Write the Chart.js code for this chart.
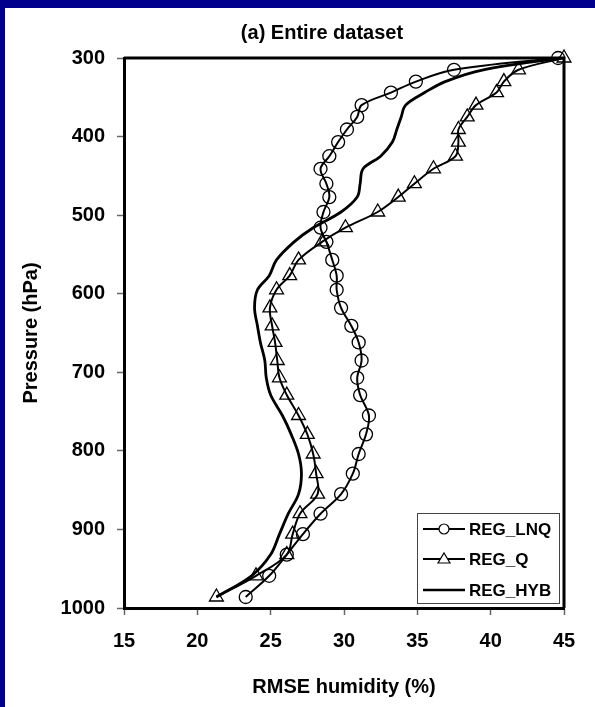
<!DOCTYPE html>
<html>
<head>
<meta charset="utf-8">
<script src="https://cdn.jsdelivr.net/npm/chart.js@4.4.1/dist/chart.umd.min.js"></script>
<style>
  html, body { margin: 0; padding: 0; background: #fff; }
  #wrap { position: relative; width: 595px; height: 707px; background: #fff; overflow: hidden; }
  .bar-top { position: absolute; left: 0; top: 0; width: 595px; height: 8px; background: #00008c; }
  .bar-left { position: absolute; left: 0; top: 0; width: 5px; height: 707px; background: #00008c; }
  canvas { position: absolute; left: 0; top: 0; }
</style>
</head>
<body>
<div id="wrap">
  <canvas id="rmse_chart" width="595" height="707"></canvas>
  <div class="bar-top"></div>
  <div class="bar-left"></div>
</div>
<script>
// pressure levels (hPa) shared by the three profiles
var pressureLevels = [300, 315, 330, 344, 360, 375, 391, 407, 425, 441, 460, 477, 496, 516, 534, 557, 577,
    595, 618, 641, 662, 685, 707, 729, 755, 779, 804, 829, 855, 880, 906, 932, 959, 986];

// RMSE humidity (%) per level
var regLnq = [44.6, 37.5, 34.9, 33.2, 31.2, 30.9, 30.2, 29.6, 29.0, 28.4, 28.8, 29.0, 28.6, 28.4, 28.8, 29.2, 29.5,
    29.5, 29.8, 30.5, 31.0, 31.2, 30.9, 31.1, 31.7, 31.5, 31.0, 30.6, 29.8, 28.4, 27.2, 26.1, 24.9, 23.3];
var regQ = [45.0, 41.9, 40.9, 40.4, 39.0, 38.4, 37.8, 37.8, 37.6, 36.1, 34.8, 33.7, 32.3, 30.1, 28.5, 26.9, 26.3,
    25.4, 24.95, 25.1, 25.3, 25.45, 25.6, 26.1, 26.9, 27.5, 27.9, 28.1, 28.2, 27.0, 26.5, 26.1, 24.0, 21.3];
var regHyb = [44.8, 39.5, 36.9, 35.5, 34.2, 33.9, 33.6, 33.3, 32.5, 31.3, 31.1, 30.9, 29.8, 27.9, 26.6, 25.4, 24.9,
    24.1, 23.9, 24.1, 24.3, 24.6, 24.7, 25.0, 25.8, 26.4, 26.9, 27.1, 26.9, 26.2, 25.6, 25.0, 23.7, 21.3];

var seriesNames = ['REG_LNQ', 'REG_Q', 'REG_HYB'];
var xTicks = [15, 20, 25, 30, 35, 40, 45];
var yTicks = [300, 400, 500, 600, 700, 800, 900, 1000];

var FONT = 'Arial, "Liberation Sans", Helvetica, sans-serif';

function toPoints(values) {
    return values.map(function(v, i) { return { x: v, y: pressureLevels[i] }; });
}

// top + right sides of the box
var framePlugin = {
    id: 'frame',
    beforeDatasetsDraw: function(chart) {
        var a = chart.chartArea, ctx = chart.ctx;
        ctx.save();
        ctx.strokeStyle = '#000';
        ctx.lineWidth = 3;
        ctx.beginPath();
        ctx.moveTo(a.left, a.top);
        ctx.lineTo(a.right, a.top);
        ctx.lineTo(a.right, a.bottom);
        ctx.stroke();
        ctx.restore();
    }
};

var titlePlugin = {
    id: 'topTitle',
    afterDraw: function(chart) {
        var ctx = chart.ctx;
        ctx.save();
        ctx.fillStyle = '#000';
        ctx.font = 'bold 20px ' + FONT;
        ctx.textAlign = 'center';
        ctx.textBaseline = 'middle';
        ctx.fillText('(a) Entire dataset', 322, 33);
        ctx.restore();
    }
};

// legend box in lower right
var legendPlugin = {
    id: 'boxLegend',
    afterDraw: function(chart) {
        var ctx = chart.ctx;
        var x0 = 417, y0 = 513, w = 142, h = 90;
        ctx.save();
        ctx.fillStyle = '#fff';
        ctx.fillRect(x0, y0, w, h);
        ctx.strokeStyle = '#444';
        ctx.lineWidth = 1;
        ctx.strokeRect(x0 + 0.5, y0 + 0.5, w, h);
        var rows = [529, 559, 590];
        for (var i = 0; i < 3; i++) {
            var y = rows[i];
            ctx.strokeStyle = '#000';
            ctx.lineWidth = i === 2 ? 2.5 : 2;
            ctx.beginPath();
            ctx.moveTo(423, y);
            ctx.lineTo(465, y);
            ctx.stroke();
            ctx.lineWidth = 1.2;
            if (i === 0) {
                ctx.fillStyle = '#fff';
                ctx.beginPath();
                ctx.arc(444, y, 5, 0, Math.PI * 2);
                ctx.fill();
                ctx.stroke();
            } else if (i === 1) {
                ctx.fillStyle = '#fff';
                ctx.beginPath();
                ctx.moveTo(444, y - 6);
                ctx.lineTo(450, y + 4);
                ctx.lineTo(438, y + 4);
                ctx.closePath();
                ctx.fill();
                ctx.stroke();
            }
            ctx.fillStyle = '#000';
            ctx.font = 'bold 17px ' + FONT;
            ctx.textAlign = 'left';
            ctx.textBaseline = 'middle';
            ctx.fillText(seriesNames[i], 469, y + 1);
        }
        ctx.restore();
    }
};

document.addEventListener('DOMContentLoaded', function() {
    var ctx = document.getElementById('rmse_chart').getContext('2d');

    new Chart(ctx, {
        type: 'scatter',
        data: {
            datasets: [{
                label: seriesNames[0],
                data: toPoints(regLnq),
                showLine: true,
                borderColor: '#000',
                borderWidth: 2,
                tension: 0.35,
                pointStyle: 'circle',
                pointRadius: 6.5,
                pointBorderWidth: 1.3,
                pointBorderColor: '#000',
                pointBackgroundColor: 'rgba(0,0,0,0)',
                clip: false
            }, {
                label: seriesNames[1],
                data: toPoints(regQ),
                showLine: true,
                borderColor: '#000',
                borderWidth: 2,
                tension: 0.35,
                pointStyle: 'triangle',
                pointRadius: 8,
                pointBorderWidth: 1.3,
                pointBorderColor: '#000',
                pointBackgroundColor: 'rgba(0,0,0,0)',
                clip: false
            }, {
                label: seriesNames[2],
                data: toPoints(regHyb),
                showLine: true,
                borderColor: '#000',
                borderWidth: 2.8,
                tension: 0.35,
                pointRadius: 0,
                clip: false
            }]
        },
        options: {
            responsive: false,
            animation: false,
            devicePixelRatio: 1,
            layout: { padding: { top: 58, right: 31, left: 0, bottom: 0 } },
            plugins: {
                legend: { display: false },
                tooltip: { enabled: false }
            },
            scales: {
                x: {
                    type: 'linear',
                    position: 'bottom',
                    min: 15,
                    max: 45,
                    afterBuildTicks: function(s) { s.ticks = xTicks.map(function(v) { return { value: v }; }); },
                    afterFit: function(s) { s.height = 99; },
                    grid: { display: true, drawOnChartArea: false, drawTicks: true, tickLength: 7, tickColor: '#666', tickWidth: 1.5 },
                    border: { display: true, color: '#000', width: 3 },
                    ticks: {
                        color: '#000', padding: 14,
                        font: { family: FONT, weight: 'bold', size: 20 },
                        callback: function(v) { return String(v); }
                    },
                    title: {
                        display: true,
                        text: 'RMSE humidity (%)',
                        color: '#000',
                        font: { family: FONT, weight: 'bold', size: 20 },
                        padding: { top: 0, bottom: 8 }
                    }
                },
                y: {
                    type: 'linear',
                    reverse: true,
                    min: 300,
                    max: 1000,
                    afterBuildTicks: function(s) { s.ticks = yTicks.map(function(v) { return { value: v }; }); },
                    afterFit: function(s) { s.width = 124; },
                    grid: { display: true, drawOnChartArea: false, drawTicks: true, tickLength: 7, tickColor: '#666', tickWidth: 1.5 },
                    border: { display: true, color: '#000', width: 3 },
                    ticks: {
                        color: '#000', padding: 12,
                        font: { family: FONT, weight: 'bold', size: 20 },
                        callback: function(v) { return String(v); }
                    },
                    title: {
                        display: true,
                        text: 'Pressure (hPa)',
                        color: '#000',
                        font: { family: FONT, weight: 'bold', size: 20 },
                        padding: { top: 19, bottom: 0 }
                    }
                }
            }
        },
        plugins: [framePlugin, titlePlugin, legendPlugin]
    });
});
</script>
</body>
</html>
